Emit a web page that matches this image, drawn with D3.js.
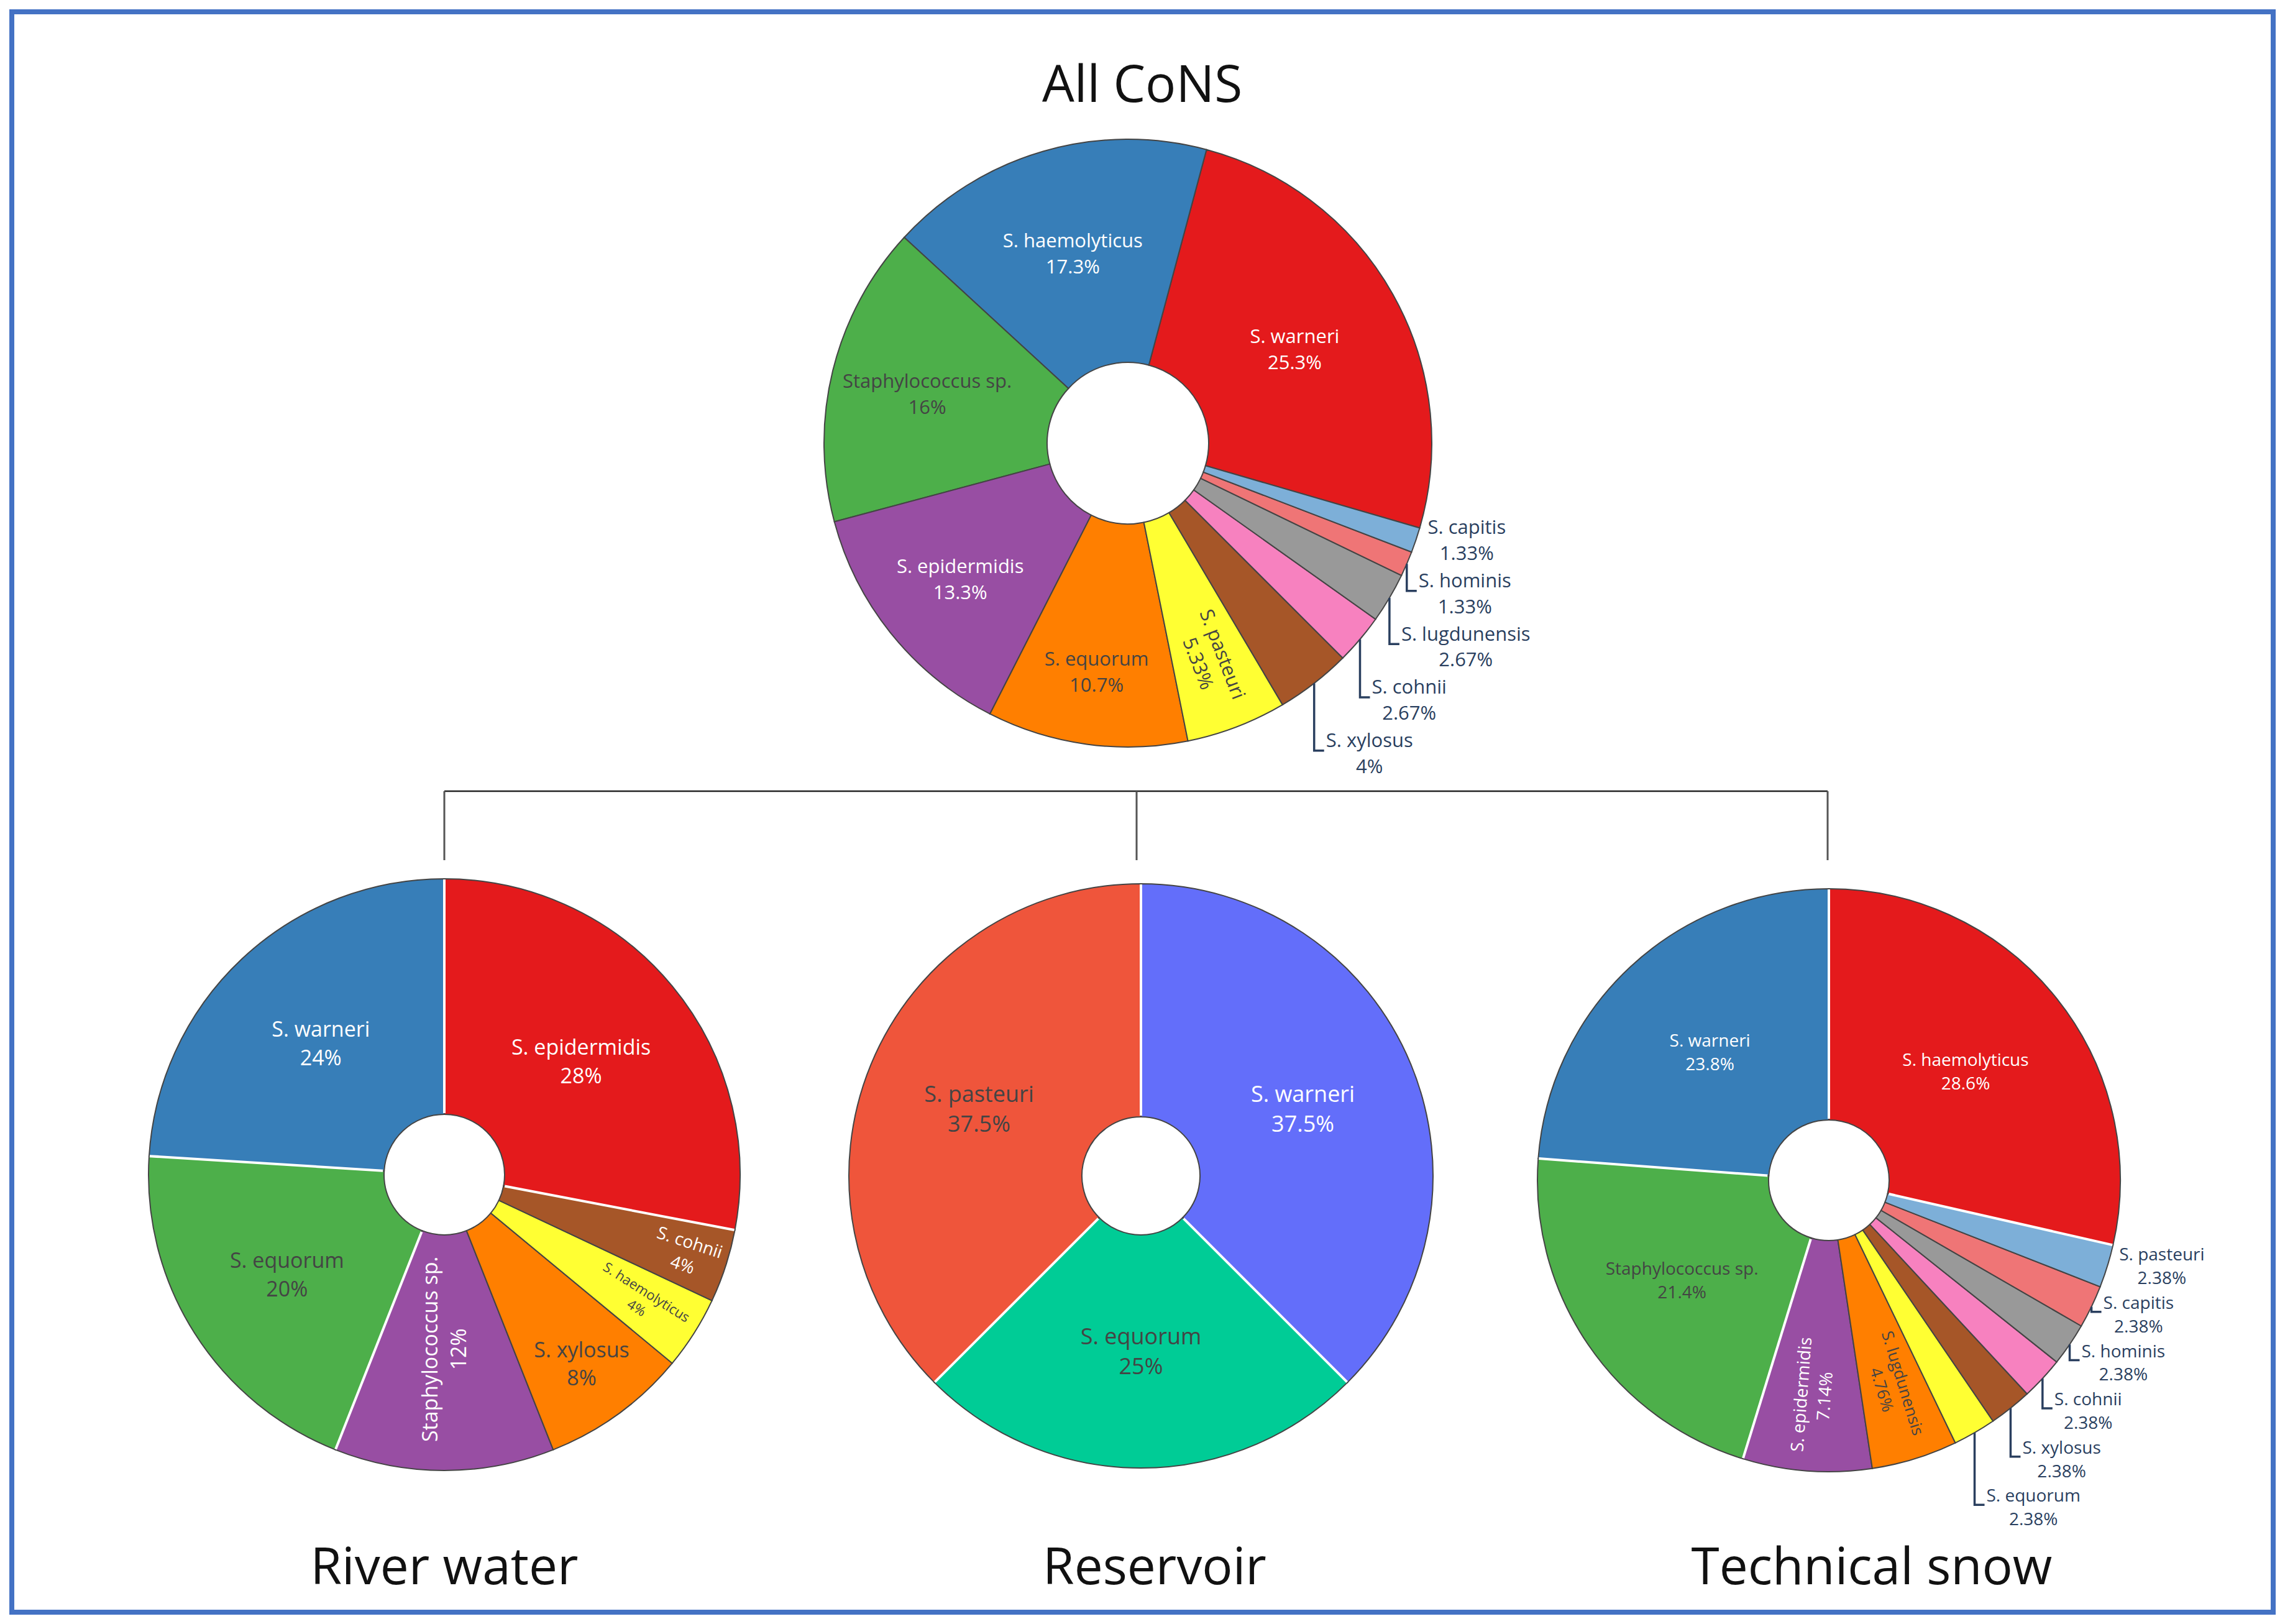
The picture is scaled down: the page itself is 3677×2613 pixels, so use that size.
<!DOCTYPE html>
<html>
<head>
<meta charset="utf-8">
<script src="https://cdn.jsdelivr.net/npm/d3@7"></script>
<style>
  body { margin: 0; background: #fff; }
  text { font-family: "Open Sans", sans-serif; }
</style>
</head>
<body>
<div id="chart"></div>
<script>
// Establish svg width and height
var svgWidth = 3677;
var svgHeight = 2613;

// ---- data (isolate counts, read from the percentages) ----
var titles = ["All CoNS", "River water", "Reservoir", "Technical snow"];

var allLabels = ["S. warneri", "S. haemolyticus", "Staphylococcus sp.", "S. epidermidis", "S. equorum",
  "S. pasteuri", "S. xylosus", "S. cohnii", "S. lugdunensis", "S. hominis", "S. capitis"];
var allCounts = [19, 13, 12, 10, 8, 4, 3, 2, 2, 1, 1];

var riverLabels = ["S. epidermidis", "S. warneri", "S. equorum", "Staphylococcus sp.", "S. xylosus",
  "S. haemolyticus", "S. cohnii"];
var riverCounts = [7, 6, 5, 3, 2, 1, 1];

var reservoirLabels = ["S. warneri", "S. pasteuri", "S. equorum"];
var reservoirCounts = [3, 3, 2];

var snowLabels = ["S. haemolyticus", "S. warneri", "Staphylococcus sp.", "S. epidermidis", "S. lugdunensis",
  "S. equorum", "S. xylosus", "S. cohnii", "S. hominis", "S. capitis", "S. pasteuri"];
var snowCounts = [12, 10, 9, 3, 2, 1, 1, 1, 1, 1, 1];

// colour lists
var set1 = ["#e41a1c", "#377eb8", "#4daf4a", "#984ea3", "#ff7f00", "#ffff33", "#a65628", "#f781bf", "#999999"];
var plotlyColors = ["#636efa", "#EF553B", "#00cc96"];

// second pass of the colorway is lightened (like plotly's extendpiecolors)
function extendColors(list) {
  var out = list.slice();
  list.forEach(function(c) {
    var h = d3.hsl(c);
    h.l = Math.min(1, h.l + 0.2);
    out.push(h.formatHex());
  });
  return out;
}

// label placement: r = fraction of radius, radial = rotate along the radius
var pies = [
  { labels: allLabels, counts: allCounts, colors: extendColors(set1),
    cx: 1815, cy: 713, r: 489, hole: 130, rotation: 15, font: 31, sep: null,
    inside: { "S. warneri": {r: 0.63}, "S. haemolyticus": {r: 0.65}, "Staphylococcus sp.": {r: 0.68},
      "S. epidermidis": {r: 0.71}, "S. equorum": {r: 0.76}, "S. pasteuri": {r: 0.76, radial: true} },
    outside: ["S. capitis", "S. hominis", "S. lugdunensis", "S. cohnii", "S. xylosus"] },
  { labels: riverLabels, counts: riverCounts, colors: extendColors(set1),
    cx: 715, cy: 1890, r: 476, hole: 97, rotation: 0, font: 34, sep: 0.199,
    inside: { "S. epidermidis": {r: 0.60}, "S. warneri": {r: 0.61}, "S. equorum": {r: 0.63},
      "Staphylococcus sp.": {r: 0.59, radial: true}, "S. xylosus": {r: 0.79},
      "S. haemolyticus": {r: 0.79, radial: true, size: 22}, "S. cohnii": {r: 0.86, radial: true, size: 28} },
    outside: [] },
  { labels: reservoirLabels, counts: reservoirCounts, colors: plotlyColors,
    cx: 1836, cy: 1892, r: 470, hole: 95, rotation: 0, font: 36, sep: 0.199,
    inside: {}, outside: [] },
  { labels: snowLabels, counts: snowCounts, colors: extendColors(set1),
    cx: 2943, cy: 1899, r: 469, hole: 97, rotation: 0, font: 28, sep: 0.199,
    inside: { "S. haemolyticus": {r: 0.60}, "S. warneri": {r: 0.60}, "Staphylococcus sp.": {r: 0.61},
      "S. epidermidis": {r: 0.74, radial: true}, "S. lugdunensis": {r: 0.74, radial: true, size: 26} },
    outside: ["S. pasteuri", "S. capitis", "S. hominis", "S. cohnii", "S. xylosus", "S. equorum"] }
];

var pctFormat = d3.format(".3~r");
var outsideColor = "#2a3f5f";

// Create an SVG wrapper
var svg = d3.select("#chart")
  .append("svg")
  .attr("width", svgWidth)
  .attr("height", svgHeight);

// blue frame
svg.append("rect")
  .attr("x", 19).attr("y", 19)
  .attr("width", svgWidth - 38).attr("height", svgHeight - 38)
  .attr("fill", "none")
  .attr("stroke", "#4472c4")
  .attr("stroke-width", 8);

// tree connector between top pie and the three bottom pies
var barY = 1273, dropY = 1384;
var bottomX = [pies[1].cx, 1829, pies[3].cx - 2];
svg.append("line")
  .attr("x1", bottomX[0]).attr("x2", bottomX[2])
  .attr("y1", barY).attr("y2", barY)
  .attr("stroke", "#222").attr("stroke-width", 2.5);
svg.selectAll(".drop")
  .data(bottomX)
  .enter()
  .append("line")
  .attr("class", "drop")
  .attr("x1", d => d).attr("x2", d => d)
  .attr("y1", barY).attr("y2", dropY)
  .attr("stroke", "#555").attr("stroke-width", 3);

// titles
var titlePos = [[1838, 164], [715, 2549], [1858, 2549], [3012, 2549]];
svg.selectAll(".title")
  .data(titles)
  .enter()
  .append("text")
  .attr("class", "title")
  .attr("x", (d, i) => titlePos[i][0])
  .attr("y", (d, i) => titlePos[i][1])
  .attr("text-anchor", "middle")
  .attr("font-size", 82)
  .attr("fill", "#111")
  .text(d => d);

function textColor(c) {
  var rgb = d3.rgb(c);
  var bright = (rgb.r * 299 + rgb.g * 587 + rgb.b * 114) / 1000;
  return bright > 128 ? "#444" : "#fff";
}

function twoLines(t, name, pct, size) {
  var lh = size * 1.35;
  t.append("tspan").attr("x", 0).attr("y", -lh / 2 + size * 0.36).text(name);
  t.append("tspan").attr("x", 0).attr("y", lh / 2 + size * 0.36).text(pct);
}

// mid angle of a slice in [0, 2pi), clockwise from 12 o'clock
function midAngle(d) {
  var m = (d.startAngle + d.endAngle) / 2;
  var tau = 2 * Math.PI;
  return ((m % tau) + tau) % tau;
}

function drawPie(p) {
  var total = d3.sum(p.counts);
  var rows = p.labels.map(function(l, i) {
    return { label: l, value: p.counts[i], color: p.colors[i % p.colors.length] };
  });

  // plotly counterclockwise: first slice ends at the rotation angle
  var a0 = (p.rotation * Math.PI / 180) + rows[0].value / total * 2 * Math.PI;
  var pie = d3.pie()
    .sort(null)
    .value(d => d.value)
    .startAngle(a0)
    .endAngle(a0 - 2 * Math.PI);
  var arcs = pie(rows);

  var arc = d3.arc().innerRadius(p.hole).outerRadius(p.r);

  var g = svg.append("g")
    .attr("transform", `translate(${p.cx}, ${p.cy})`);

  g.selectAll("path.slice")
    .data(arcs)
    .enter()
    .append("path")
    .attr("class", "slice")
    .attr("d", arc)
    .attr("fill", d => d.data.color)
    .attr("stroke", "#444")
    .attr("stroke-width", 2);

  // white separators next to the bigger slices
  if (p.sep !== null) {
    arcs.forEach(function(d, i) {
      var prev = arcs[(i - 1 + arcs.length) % arcs.length];
      if (Math.max(d.value, prev.value) / total >= p.sep) {
        var a = d.startAngle;
        g.append("line")
          .attr("x1", (p.hole + 2) * Math.sin(a)).attr("y1", -(p.hole + 2) * Math.cos(a))
          .attr("x2", (p.r - 1) * Math.sin(a)).attr("y2", -(p.r - 1) * Math.cos(a))
          .attr("stroke", "#fff").attr("stroke-width", 4);
      }
    });
  }

  // inside labels
  arcs.filter(d => p.outside.indexOf(d.data.label) < 0).forEach(function(d) {
    var st = p.inside[d.data.label] || {};
    var frac = st.r || 0.6;
    var size = st.size || p.font;
    var mid = midAngle(d);
    var x = frac * p.r * Math.sin(mid), y = -frac * p.r * Math.cos(mid);
    var rot = 0;
    if (st.radial) {
      var deg = mid * 180 / Math.PI;
      rot = deg < 179.9 ? deg - 90 : deg - 270;
    }
    var t = g.append("text")
      .attr("transform", `translate(${x}, ${y}) rotate(${rot})`)
      .attr("text-anchor", "middle")
      .attr("font-size", size)
      .attr("fill", textColor(d.data.color));
    twoLines(t, d.data.label, pctFormat(d.value / total * 100) + "%", size);
  });

  // outside labels, stacked downwards with connectors
  var outs = arcs.filter(d => p.outside.indexOf(d.data.label) >= 0)
    .sort((a, b) => midAngle(a) - midAngle(b));
  var lh = p.font * 1.35;
  var pad = 19;
  var prevY = -Infinity;
  outs.forEach(function(d) {
    var mid = midAngle(d);
    var ex = p.r * Math.sin(mid), ey = -p.r * Math.cos(mid);
    var c = Math.max(ey, prevY + 2 * lh + 2);
    prevY = c;
    var left = ex + pad;
    var t = g.append("text")
      .attr("text-anchor", "middle")
      .attr("font-size", p.font)
      .attr("fill", outsideColor);
    twoLines(t, d.data.label, pctFormat(d.value / total * 100) + "%", p.font);
    var bb = t.node().getBBox();
    t.attr("transform", `translate(${left - bb.x}, ${c})`);
    if (c - ey > 3) {
      g.append("path")
        .attr("d", `M${ex},${ey}V${c - 4}H${left - 3}`)
        .attr("fill", "none")
        .attr("stroke", outsideColor)
        .attr("stroke-width", 3.5);
    }
  });
}

pies.forEach(drawPie);
</script>
</body>
</html>
